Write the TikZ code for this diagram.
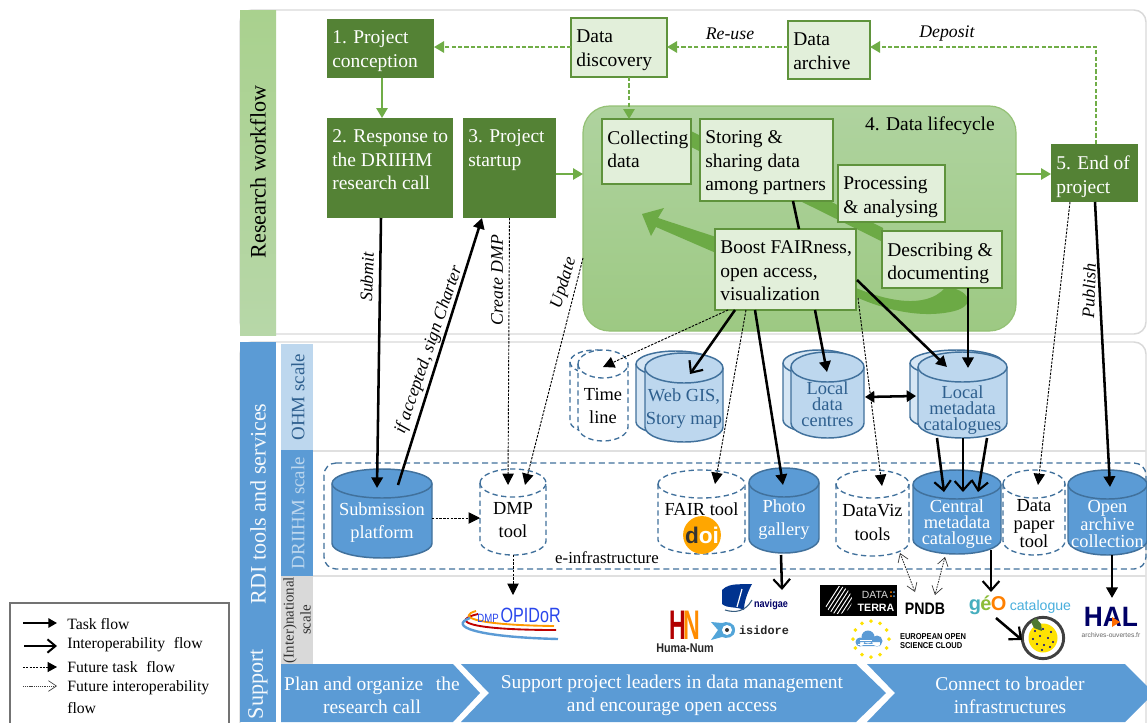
\documentclass[tikz,border=0pt]{standalone}
\usepackage{fontspec}
\setmainfont{Liberation Serif}
\setsansfont{Liberation Sans}
\setmonofont{Liberation Mono}
\usetikzlibrary{arrows.meta,calc,shapes.geometric}
\definecolor{dgreen}{HTML}{548235}
\definecolor{lgreen}{HTML}{E2EFDA}
\definecolor{mgreen}{HTML}{70AD47}
\definecolor{bandg}{HTML}{6CAA45}
\definecolor{barg}{HTML}{A9D18E}
\definecolor{barg2}{HTML}{B7D7A8}
\definecolor{lcT}{HTML}{AFD39F}
\definecolor{lcB}{HTML}{9DC983}
\definecolor{mblue}{HTML}{5B9BD5}
\definecolor{lblue}{HTML}{BDD7EE}
\definecolor{eblue}{HTML}{41719C}
\definecolor{tblue}{HTML}{2E5F8E}
\definecolor{frameg}{HTML}{D9D9D9}
\definecolor{lgbk}{HTML}{D6E6F4}
\newcommand\ftm{\fontsize{14.6}{17.6}\selectfont}
\newcommand\fcy{\fontsize{13.8}{17.3}\selectfont}
\newcommand\fcn{\fontsize{13.8}{12.2}\selectfont}
\newcommand\fita{\fontsize{13.3}{15}\selectfont\itshape}
\newcommand\fsc{\fontsize{14.2}{16}\selectfont}
\newcommand\flg{\fontsize{11.8}{14}\selectfont}
% box: name x0 y0 x1 y1 style text
\newcommand\bx[7]{%
  \pgfmathsetlengthmacro\mybxw{(#4-#2)*0.75}%
  \pgfmathsetlengthmacro\mybxh{(#5-#3)*0.75}%
  \pgfmathsetmacro\mybxx{(#2+#4)/2}%
  \pgfmathsetmacro\mybxy{(#3+#5)/2}%
  \node[#6,inner sep=0pt,outer sep=0pt] (#1) at (\mybxx,\mybxy)
    {\parbox[c][\mybxh][t]{\mybxw}{\raggedright\leftskip=4pt\parindent=0pt\rightskip=0pt plus 1fil\ftm\vspace*{9pt}#7}};%
}
% cylinder: name x0 y0 x1 y1 ry style dy text
\newcommand\cyl[9]{%
  \pgfmathsetmacro\cmx{(#2+#4)/2}%
  \pgfmathsetmacro\cmy{(#3+#5)/2}%
  \pgfmathsetmacro\crx{(#4-#2)/2}%
  \pgfmathsetmacro\cta{#3+#6}%
  \pgfmathsetmacro\cbo{#5-#6}%
  \pgfmathsetlengthmacro\cyw{(#4-#2)*0.75}%
  \pgfmathsetlengthmacro\cyh{(#5-#3)*0.75}%
  \pgfmathsetlengthmacro\cdy{-(#8)*0.75-2.5}%
  \path[#7] (#2,\cta) -- (#2,\cbo) arc[start angle=180,end angle=0,x radius=\crx,y radius=#6]
     -- (#4,\cta) arc[start angle=0,end angle=-180,x radius=\crx,y radius=#6] -- cycle;
  \path[#7,fill=none] (#2,\cta) arc[start angle=180,end angle=0,x radius=\crx,y radius=#6];
  \node[#7,draw=none,fill=none,inner sep=0pt,outer sep=0pt,minimum width=\cyw,minimum height=\cyh] (#1) at (\cmx,\cmy)
    {\raisebox{\cdy}[0pt][0pt]{\parbox[c]{\cyw}{\centering\fcy #9}}};%
}
\tikzset{
  x=0.75pt,y=-0.75pt,
  darkbox/.style={fill=dgreen,text=white},
  lightbox/.style={draw=mgreen!85!black,line width=1.1pt,fill=lgreen,text=black},
  lifebox/.style={top color=lcT,bottom color=lcB,draw=mgreen!75,line width=0.9pt,rounded corners=20pt,minimum width=324.75pt,minimum height=168.75pt,inner sep=0pt,outer sep=0pt},
  greenflow/.style={draw=mgreen,line width=1.4pt,-{Triangle[length=7.5pt,width=8.5pt,fill=mgreen]}},
  greendash/.style={greenflow,dash pattern=on 3.2pt off 1.6pt},
  taskflow/.style={draw=black,line width=1.9pt,-{Triangle[length=8pt,width=8.5pt]}},
  interflow/.style={draw=black,line width=1.9pt,-{Straight Barb[length=7pt,width=12.5pt,line width=1.6pt]}},
  linkflow/.style={draw=black,line width=1.9pt},
  bothflow/.style={draw=black,line width=1.9pt,{Triangle[length=7pt,width=8.5pt]}-{Triangle[length=7pt,width=8.5pt]}},
  futflow/.style={draw=black,line width=0.7pt,dash pattern=on 1.8pt off 1pt,-{Triangle[length=8.5pt,width=8.5pt]}},
  futboth/.style={draw=black!80,line width=0.65pt,dash pattern=on 1.2pt off 0.8pt,{Straight Barb[length=6pt,width=8pt,line width=0.5pt]}-{Straight Barb[length=6pt,width=8pt,line width=0.5pt]}},
  darkcyl/.style={draw=eblue,fill=mblue,line width=1.1pt,text=white},
  palecyl/.style={draw=eblue,fill=lblue,line width=1.1pt,text=tblue},
  palecylb/.style={draw=eblue,fill=lgbk,line width=1.1pt,text=tblue},
  dashcyl/.style={draw=eblue,fill=white,line width=1pt,dash pattern=on 4pt off 2.6pt,text=black},
  dashcylb/.style={draw=eblue,fill=white,line width=1pt,dash pattern=on 4pt off 2.6pt,text=black},
  chevron/.style={fill=mblue},
  barlabel/.style={rotate=90,inner sep=0pt},
  flowlabel/.style={inner sep=0pt,font=\fita},
  chevtext/.style={inner sep=0pt,text=white,align=center,font=\fontsize{14.6}{17.4}\selectfont},
  legtext/.style={inner sep=0pt,anchor=west,font=\flg},
  logosans/.style={inner sep=0pt,font=\sffamily\bfseries},
}
\begin{document}
\begin{tikzpicture}
\useasboundingbox (0,0) rectangle (1147,722);
\clip (0,0) rectangle (1147,722);
\fill[white] (0,0) rectangle (1147,722);
% ---- frames
\draw[frameg,line width=1.1pt,rounded corners=9pt] (240,10) -- (1146,10) -- (1146,334) -- (240,334) -- cycle;
\draw[frameg,line width=1.1pt,rounded corners=9pt] (240,342) -- (1146,342) -- (1146,760) -- (240,760) -- cycle;
\shade[top color=barg,bottom color=barg2] (240,10) rectangle (276,335);
\node[barlabel,font=\fontsize{16.6}{18}\selectfont] (rw) at (258,172) {Research workflow};
\fill[mblue] (240,342) rectangle (276,722);
\node[barlabel,text=white!85!lblue,font=\fontsize{16.6}{18}\selectfont] (rdi) at (258,504) {RDI tools and services};
\node[barlabel,text=white!85!lblue,font=\fontsize{16.6}{18}\selectfont] (sup) at (258,684) {Support};
\fill[lblue] (281,344) rectangle (313,450);
\fill[mblue] (281,450) rectangle (313,576);
\fill[frameg] (281,576) rectangle (313,664);
\draw[black!12,line width=1pt] (313,451) -- (1146,451);
\draw[black!12,line width=1pt] (313,576) -- (1146,576);
\node[barlabel,text=tblue,font=\fsc] (ohm) at (298,397) {OHM scale};
\node[barlabel,text=lblue,font=\fsc] (dri) at (298,513) {DRIIHM scale};
\node[barlabel,align=center,text=black!80,font=\fontsize{11.2}{12.6}\selectfont] (int) at (297,620) {(Inter)national\\scale};
% ---- lifecycle + band
\node[lifebox] (lc) at (799.5,218.5) {};
\node[inner sep=0pt,anchor=east,font=\ftm] (lclab) at (995,126) {4. Data lifecycle};
\fill[bandg] (691,131) -- (883,228) -- (883,242) -- (691,147) -- cycle;
\fill[bandg] (856,288) .. controls (885,300) and (925,310) .. (945,288) -- (953,288)
   .. controls (975,295) and (972,308) .. (950,312) .. controls (920,318) and (885,310) .. (856,297) -- cycle;
\fill[bandg] (716,237) -- (658,218) -- (664,208) -- (642,214) -- (651,236) -- (656,227) -- (716,253) -- cycle;
% ---- workflow boxes
\bx{n1}{327}{19}{434}{78}{darkbox}{1. Project\\conception}
\bx{n2}{327}{118}{453}{218}{darkbox}{2. Response to\\the DRIIHM\\research call}
\bx{n3}{463}{118}{556}{218}{darkbox}{3. Project\\startup}
\bx{dd}{571}{18}{667}{77}{lightbox}{Data\\discovery}
\bx{da}{788}{21}{870}{79}{lightbox}{Data\\archive}
\bx{col}{602}{119}{691}{184}{lightbox}{Collecting\\data}
\bx{st}{700}{119}{833}{201}{lightbox}{Storing \&\\sharing data\\among partners}
\bx{pr}{838}{165}{945}{222}{lightbox}{Processing\\\& analysing}
\bx{de}{882}{231}{1002}{288}{lightbox}{Describing \&\\documenting}
\bx{bo}{715}{229}{856}{310}{lightbox}{Boost FAIRness,\\open access,\\visualization}
\bx{en}{1051}{144}{1138}{202}{darkbox}{5. End of\\project}
% ---- e-infrastructure
\draw[eblue,line width=1pt,dash pattern=on 4.5pt off 2.8pt,rounded corners=9pt] (324,463) -- (1146,463) -- (1146,569) -- (324,569) -- cycle;
\node[inner sep=0pt,font=\fontsize{12.6}{14}\selectfont] (einf) at (607,558) {e-infrastructure};
% ---- cylinders
\cyl{sub}{332}{469}{432}{558}{14.5}{darkcyl}{9}{Submission\\platform}
\cyl{dmp}{480}{469}{546}{555}{14}{dashcyl}{8.5}{DMP\\tool}
\cyl{tlb}{570}{350}{620}{433}{12}{dashcylb}{0}{}
\cyl{tl}{578}{350}{628}{441}{14}{dashcyl}{10.5}{Time\\line}
\cyl{webb}{636}{351}{715}{435}{13}{palecylb}{0}{}
\cyl{web}{645}{353}{723}{442}{15}{palecyl}{11}{Web GIS,\\Story map}
\cyl{ldcb}{783}{350}{855}{433}{13}{palecylb}{0}{}
\cyl{ldc}{791}{352}{864}{438}{15}{palecyl}{9}{\fcn Local\\data\\centres}
\cyl{lmcb}{910}{350}{1003}{430}{13}{palecylb}{0}{}
\cyl{lmc}{918}{352}{1007}{438}{15}{palecyl}{15}{\fcn Local\\metadata\\catalogues}
\cyl{fair}{658}{470}{745}{554}{14}{dashcyl}{-3}{FAIR tool}
\cyl{pho}{749}{468}{819}{553}{14.5}{darkcyl}{9}{Photo\\gallery}
\cyl{viz}{836}{470}{909}{556}{14}{dashcyl}{9.5}{DataViz\\tools}
\cyl{cen}{913}{470}{1001}{554}{14.5}{darkcyl}{12}{\fcn Central\\metadata\\catalogue}
\cyl{pap}{1003}{470}{1065}{555}{14}{dashcyl}{11}{\fontsize{13.8}{13.6}\selectfont Data\\paper\\tool}
\cyl{oa}{1068}{470}{1147}{555}{14.5}{darkcyl}{11.5}{\fcn Open\\archive\\collection}
\node[circle,fill=orange!70!yellow,inner sep=0pt,minimum size=27pt,font=\sffamily\bfseries\fontsize{17}{17}\selectfont] (doi) at (702,535) {\textcolor{black!80}{d}\textcolor{white}{oi}};
% ---- chevrons
\fill[chevron] (281,664) -- (453,664) -- (480,693) -- (453,722) -- (281,722) -- cycle;
\fill[chevron] (461,664) -- (856,664) -- (886,693) -- (856,722) -- (461,722) -- (489,693) -- cycle;
\fill[chevron] (867,664) -- (1125,664) -- (1154,693) -- (1125,722) -- (867,722) -- (895,693) -- cycle;
\node[chevtext] (c1) at (372,695) {Plan and organize\hspace{0.4em} the\\research call};
\node[chevtext] (c2) at (672,695) {Support project leaders in data management\\and encourage open access};
\node[chevtext] (c3) at (1010,695) {Connect to broader\\infrastructures};
% ---- logos
\draw[red!75!black,line width=1.4pt] (478,614) .. controls (452,620) and (462,630) .. (556,630);
\draw[orange!80!yellow,line width=1.4pt] (476,611) .. controls (458,616) and (470,625) .. (554,626);
\draw[mblue,line width=1.8pt] (470,618) .. controls (448,626) and (475,637) .. (558,639);
\node[inner sep=0pt,text=blue!55!mblue,font=\sffamily] (opidor) at (519,615) {\fontsize{9}{9}\selectfont\scalebox{.8}[1]{DMP}\,\fontsize{15.5}{15.5}\selectfont\scalebox{.78}[1]{OPIDoR}};
\node[inner sep=0pt,font=\sffamily\bfseries\fontsize{31}{31}\selectfont] (hn) at (685,625) {\scalebox{.56}[1]{\textcolor{red!70!black}{H}\hspace{-4pt}\textcolor{orange!90!yellow}{N}}};
\node[logosans,font=\sffamily\bfseries\fontsize{9.5}{10}\selectfont,text=black!85] (huma) at (685,648) {\scalebox{.85}[1]{Huma-Num}};
\fill[blue!45!black!80!cyan] (722,590) .. controls (730,582) and (742,585) .. (752,584) .. controls (746,595) and (744,604) .. (744,610) .. controls (736,606) and (728,609) .. (722,604) -- cycle;
\draw[white,line width=0.9pt] (742,589) -- (737,607);
\draw[mblue!60!black,line width=0.8pt] (725,610) .. controls (735,613) and (745,612) .. (752,600);
\node[logosans,font=\sffamily\bfseries\fontsize{8}{9}\selectfont,text=blue!40!black] (nav) at (771,605) {\scalebox{.85}[1]{navigae}};
\fill[mblue!90!cyan] (711,622) -- (718,630) -- (711,640) -- (722,637) .. controls (726,639) and (735,638) .. (735,630) .. controls (735,622) and (726,621) .. (722,623) -- cycle;
\fill[white] (727,630) circle[radius=5];
\fill[black!80] (727,630) circle[radius=2];
\node[inner sep=0pt,font=\ttfamily\bfseries\fontsize{8.9}{10}\selectfont,text=black!85] (isi) at (764,630) {isidore};
\fill[black] (820,585) rectangle (897,616);
\begin{scope}
\clip (838,600) circle[radius=14];
\foreach \q in {0,4,...,40}{\draw[white,line width=0.7pt] (820+\q,616) -- (840+\q,585);}
\end{scope}
\node[inner sep=0pt,text=white!85!black,font=\sffamily\fontsize{7.8}{9}\selectfont] (dat) at (875,595) {DATA};
\node[inner sep=0pt,text=white,font=\sffamily\bfseries\fontsize{8}{9}\selectfont] (ter) at (876,608) {TERRA};
\fill[orange] (891,592) circle[radius=1];\fill[mblue] (894,592) circle[radius=1];\fill[orange] (891,596) circle[radius=1];\fill[mblue] (894,596) circle[radius=1];
\node[inner sep=0pt,font=\sffamily\bfseries\fontsize{12.5}{13}\selectfont] (pndb) at (925,609) {\scalebox{.85}[1]{PNDB}};
\foreach \a in {0,30,...,330}{\fill[yellow!85!orange] ($(871,639)+(\a:18)+(0,-2)$) -- ($(871,639)+(\a:18)+(2,0)$) -- ($(871,639)+(\a:18)+(0,2)$) -- ($(871,639)+(\a:18)+(-2,0)$) -- cycle;}
\fill[mblue] (860,642) circle[radius=4.5] (868,637) circle[radius=6.5] (877,641) circle[radius=5.5] (860,642) rectangle (880,646);
\draw[white,line width=0.6pt] (860,640) -- (872,640) (858,644) -- (874,644);
\node[inner sep=0pt,align=left,font=\sffamily\bfseries\fontsize{6.4}{6.9}\selectfont] (eosc) at (933,641) {\scalebox{.88}[1]{EUROPEAN OPEN}\\\scalebox{.88}[1]{SCIENCE CLOUD}};
\node[inner sep=0pt,font=\sffamily] (geoc) at (1020,605) {\fontsize{15}{15}\selectfont\bfseries\textcolor{cyan!60!mgreen}{g}\hspace{-0.5pt}\textcolor{mgreen!80!yellow}{é}\hspace{-0.5pt}\textcolor{orange}{O}\,\mdseries\fontsize{10.6}{11}\selectfont\textcolor{mblue!80!cyan}{catalogue}};
\node[circle,draw=black!75,line width=2.2pt,fill=white,minimum size=31pt,inner sep=0pt] (rsp) at (1043,638) {};
\fill[yellow!85!orange] (1043,638) circle[radius=14.5];
\foreach \u/\v in {-8/-7,0/-9,8/-6,-10/1,-3/-2,5/0,10/4,-6/6,1/7,7/9,-1/12}{\fill[blue!55!black] (1043+\u,638+\v) circle[radius=1.1];}
\fill[mgreen!70!black] (1036,618) -- (1041,624) -- (1042,631) -- (1034,628) -- (1031,622) -- cycle;
\node[inner sep=0pt,text=blue!40!black,font=\sffamily\bfseries\fontsize{21}{21}\selectfont] (hal) at (1111,617) {\scalebox{.94}[1]{HAL}};
\fill[orange!85!red] (1112,617) -- (1120,622) -- (1112,627) -- cycle;
\node[inner sep=0pt,text=black!60,font=\sffamily\fontsize{5}{6}\selectfont] (halu) at (1111,635) {archives-ouvertes.fr};
% ---- green connectors
\draw[greenflow] ([shift={(1.5,0)}]n1.south) -- ([shift={(-8,0)}]n2.north);
\draw[greendash] ([shift={(0,-0.5)}]dd.west) -- ([shift={(0,-1.5)}]n1.east);
\draw[greendash] ([shift={(0,-3)}]da.west) -- ([shift={(0,-0.5)}]dd.east);
\draw[greendash] ([shift={(1.5,0)}]en.north) |- ([shift={(0,-3)}]da.east);
\draw[greendash] ([shift={(10,0)}]dd.south) -- ([shift={(-17.5,0)}]col.north);
\draw[greenflow] ([shift={(0,6)}]n3.east) -- ([shift={(0,-44.5)}]lc.west);
\draw[greenflow] ([shift={(0,-44.5)}]lc.east) -- ([shift={(0,1)}]en.west);
\node[flowlabel] (reuse) at (730,34) {Re-use};
\node[flowlabel] (depo) at (947,34) {Deposit};
% ---- black connectors
\draw[taskflow] ([shift={(-9,0)}]n2.south) -- ([shift={(-5,19)}]sub.north);
\draw[taskflow] ([shift={(16,16)}]sub.north) -- ([shift={(-27.5,0)}]n3.south);
\draw[futflow] (n3.south) -- ([shift={(-5,16)}]dmp.north);
\draw[futflow] ([shift={(0,39.5)}]lc.west) -- ([shift={(12,16)}]dmp.north);
\draw[futflow] ([shift={(0,4.5)}]sub.east) -- ([shift={(0,6)}]dmp.west);
\draw[futflow] (dmp.south) -- ([shift={(-6,-20)}]opidor.center);
\draw[futflow] ([shift={(-57.5,0)}]bo.south) -- ([shift={(0,17)}]tl.north);
\draw[interflow] ([shift={(-50.5,0)}]bo.south) -- ([shift={(6,21)}]web.north);
\draw[futflow] ([shift={(-39.5,0)}]bo.south) -- ([shift={(13.5,14)}]fair.north);
\draw[taskflow] ([shift={(-30.5,0)}]bo.south) -- ([shift={(-1,17)}]pho.north);
\draw[taskflow] ([shift={(29.5,0)}]bo.south) -- ([shift={(-0.5,20)}]ldc.north);
\draw[futflow] ([shift={(2,28.5)}]bo.east) -- ([shift={(9.5,16)}]viz.north);
\draw[taskflow] ([shift={(1,10.5)}]bo.east) -- ([shift={(-15.5,15)}]lmc.north);
\draw[linkflow] ([shift={(26.5,0)}]st.south) -- ([shift={(13.5,0)}]bo.north);
\draw[taskflow] ([shift={(26,0)}]de.south) -- ([shift={(5.5,16)}]lmc.north);
\draw[futflow] ([shift={(-24.5,0)}]en.south) -- ([shift={(4,15)}]pap.north);
\draw[taskflow] ([shift={(0.5,0)}]en.south) -- ([shift={(2.5,17)}]oa.north);
\draw[bothflow] ([shift={(1,2)}]ldc.east) -- ([shift={(-2,1)}]lmc.west);
\draw[interflow] ([shift={(-25.5,0)}]lmc.south) -- ([shift={(-13,22)}]cen.north);
\draw[interflow] ([shift={(0.5,0)}]lmc.south) -- ([shift={(6,22)}]cen.north);
\draw[interflow] ([shift={(24.5,0)}]lmc.south) -- ([shift={(21,22)}]cen.north);
\draw[interflow] ([shift={(-3,2)}]pho.south) -- ([shift={(11,-15)}]nav.center);
\draw[interflow] ([shift={(34,-4)}]cen.south) -- ([shift={(-29,-13)}]geoc.center);
\draw[interflow] ([shift={(-24,13)}]geoc.center) -- ([shift={(-21,2)}]rsp.center);
\draw[taskflow] ([shift={(4.5,0)}]oa.south) -- ([shift={(1,-19)}]hal.center);
\draw[futboth] ([shift={(27.5,-3)}]viz.south) -- ([shift={(-10,-17)}]pndb.center);
\draw[futboth] ([shift={(-12,3)}]cen.south) -- ([shift={(10,-14)}]pndb.center);
% ---- flow labels
\node[flowlabel,rotate=88] (lsub) at (367,277) {Submit};
\node[flowlabel,rotate=71] (lsign) at (429,350) {if accepted, sign Charter};
\node[flowlabel,rotate=90] (lcre) at (497,280) {Create DMP};
\node[flowlabel,rotate=73] (lupd) at (564,283) {Update};
\node[flowlabel,rotate=88] (lpub) at (1089,291) {Publish};
% ---- legend
\draw[black!55,line width=0.9pt,fill=white] (10,603) rectangle (229,740);
\node[legtext] (lg1) at (67,624) {Task flow};
\node[legtext] (lg2) at (67,645) {Interoperability\hspace{0.3em} flow};
\node[legtext] (lg3) at (67,667) {Future task\hspace{0.3em} flow};
\node[legtext] (lg4) at (67,688) {Future interoperability};
\node[legtext] (lg5) at (67,708) {flow};
\coordinate (la1) at (23,623);
\coordinate (la2) at (24,646);
\coordinate (la3) at (23,667);
\coordinate (la4) at (23,686);
\draw[draw=black,line width=1.4pt,-{Triangle[length=6.5pt,width=7pt]}] (la1) -- ([shift={(-10,-1)}]lg1.west);
\draw[draw=black,line width=1.9pt,-{Straight Barb[length=6pt,width=10pt,line width=1.5pt]}] (la2) -- ([shift={(-10,1)}]lg2.west);
\draw[draw=black,line width=0.6pt,dash pattern=on 1.6pt off 0.9pt,-{Triangle[length=7pt,width=7.5pt]}] (la3) -- ([shift={(-10,0)}]lg3.west);
\draw[draw=black!75,line width=0.6pt,dash pattern=on 0.8pt off 0.6pt,-{Straight Barb[length=6pt,width=8pt,line width=0.5pt]}] (la4) -- ([shift={(-10,-2)}]lg4.west);
\end{tikzpicture}
\end{document}
